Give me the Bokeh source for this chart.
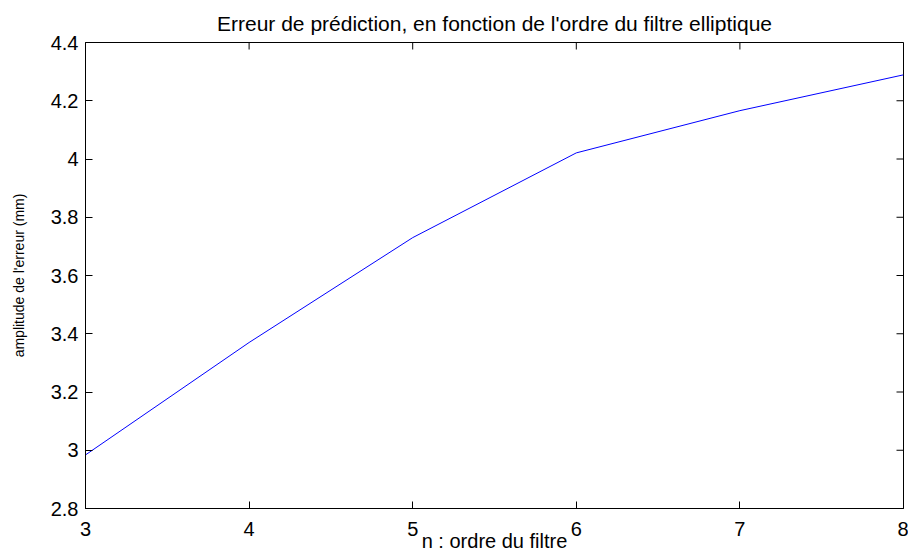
from bokeh.plotting import figure
from bokeh.models import FixedTicker, Range1d
from bokeh.embed import file_html
from bokeh.resources import INLINE

# data
n_order = [3, 4, 5, 6, 7, 8]
erreur = [2.984, 3.37, 3.73, 4.021, 4.166, 4.289]

x_ticks = [3, 4, 5, 6, 7, 8]
x_tick_labels = ["3", "4", "5", "6", "7", "8"]
y_ticks = [2.8, 3.0, 3.2, 3.4, 3.6, 3.8, 4.0, 4.2, 4.4]
y_tick_labels = ["2.8", "3", "3.2", "3.4", "3.6", "3.8", "4", "4.2", "4.4"]

title_text = "Erreur de prédiction, en fonction de l'ordre du filtre elliptique"
x_label = "n : ordre du filtre"
y_label = "amplitude de l'erreur (mm)"

FONT = "Liberation Sans"
X_MIN, X_MAX = 3, 8
Y_MIN, Y_MAX = 2.8, 4.4
FRAME_W, FRAME_H = 818, 466
TICK_PX = 7

p = figure(
    frame_width=FRAME_W, frame_height=FRAME_H,
    min_border_left=85, min_border_top=42, min_border_right=5, min_border_bottom=46,
    x_range=Range1d(X_MIN, X_MAX), y_range=Range1d(Y_MIN, Y_MAX),
    output_backend="svg", toolbar_location=None,
    title=title_text,
)
p.background_fill_color = "white"
p.border_fill_color = "white"
p.outline_line_color = "black"
p.outline_line_width = 1
p.grid.grid_line_color = None

p.title.align = "center"
p.title.text_font = FONT
p.title.text_font_size = "21px"
p.title.text_font_style = "normal"
p.title.text_color = "black"
p.title.standoff = 15

p.line(n_order, erreur, line_color="#0000ff", line_width=1)

xo = {t: l for t, l in zip(x_ticks, x_tick_labels)}
yo = {t: l for t, l in zip(y_ticks, y_tick_labels)}

for ax, ticks, overrides in ((p.xaxis[0], x_ticks, xo), (p.yaxis[0], y_ticks, yo)):
    ax.ticker = FixedTicker(ticks=ticks)
    ax.major_label_overrides = overrides
    ax.axis_line_color = "black"
    ax.axis_line_width = 1
    ax.major_tick_line_color = "black"
    ax.major_tick_in = TICK_PX
    ax.major_tick_out = 0
    ax.minor_tick_line_color = None
    ax.major_label_text_font = FONT
    ax.major_label_text_color = "black"
    ax.major_label_text_font_size = "20px"
    ax.axis_label_text_font = FONT
    ax.axis_label_text_font_style = "normal"
    ax.axis_label_text_color = "black"

p.xaxis[0].major_label_standoff = 13
p.yaxis[0].major_label_standoff = 7

p.xaxis[0].axis_label = x_label
p.xaxis[0].axis_label_text_font_size = "20px"
p.xaxis[0].axis_label_standoff = -9

p.yaxis[0].axis_label = y_label
p.yaxis[0].axis_label_text_font_size = "14px"
p.yaxis[0].axis_label_standoff = 21

# inward ticks on the top and right edges of the box
dy = TICK_PX * (Y_MAX - Y_MIN) / FRAME_H
dx = TICK_PX * (X_MAX - X_MIN) / FRAME_W
p.segment(x0=x_ticks, y0=[Y_MAX] * len(x_ticks), x1=x_ticks,
          y1=[Y_MAX - dy] * len(x_ticks), line_color="black", line_width=1)
p.segment(x0=[X_MAX] * len(y_ticks), y0=y_ticks, x1=[X_MAX - dx] * len(y_ticks),
          y1=y_ticks, line_color="black", line_width=1)

open("out.html", "w").write(file_html(p, INLINE))
